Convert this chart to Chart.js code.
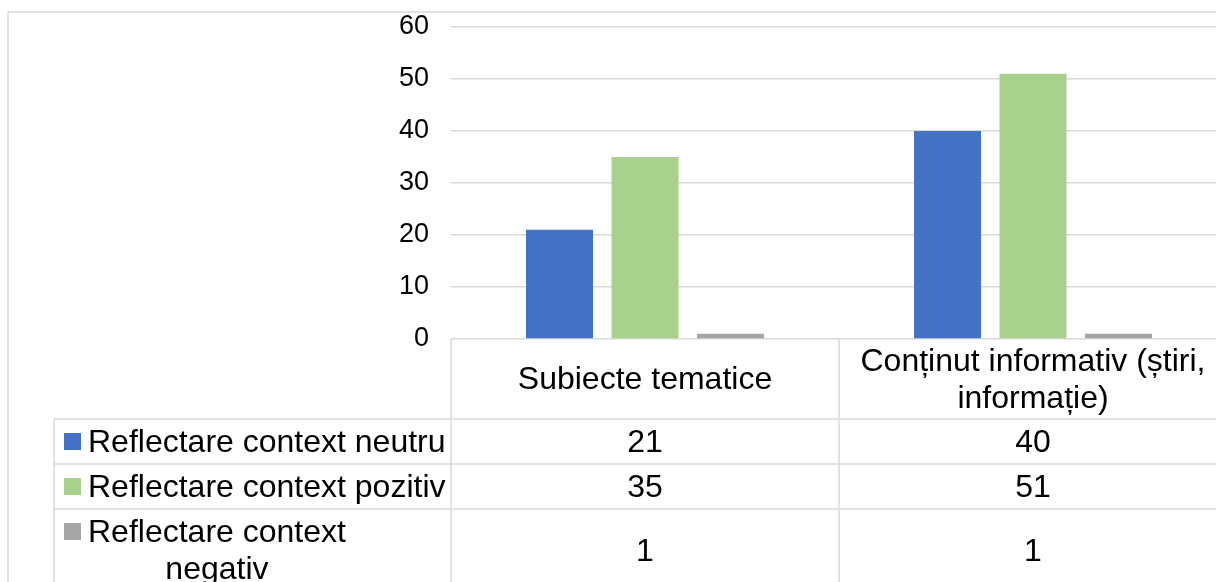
<!DOCTYPE html>
<html>
<head>
<meta charset="utf-8">
<script src="https://cdn.jsdelivr.net/npm/chart.js@4"></script>
<style>
  html, body { margin: 0; padding: 0; overflow: hidden; background: #fff; }
  #wrap { position: absolute; left: 0; top: 0; width: 1240px; height: 600px; }
</style>
</head>
<body>
<div id="wrap"><canvas id="chart" width="1240" height="600"></canvas></div>
<script>
// data
const categories = [["Subiecte tematice"], ["Conținut informativ (știri,", "informație)"]];
const seriesNames = ["Reflectare context neutru", "Reflectare context pozitiv", "Reflectare context negativ"];
const neutru = [21, 40];
const pozitiv = [35, 51];
const negativ = [1, 1];
const yTicks = [0, 10, 20, 30, 40, 50, 60];

const colors = ["#4472C4", "#A9D18E", "#A5A5A5"];
const lineColor = "#D9D9D9";
const fontFamily = "'Liberation Sans', Arial, sans-serif";

// splits text into lines no wider than maxW
function wrapText(ctx, text, maxW) {
    const words = text.split(" ");
    const lines = [];
    let cur = "";
    words.forEach(w => {
        const test = cur ? cur + " " + w : w;
        if (cur && ctx.measureText(test).width > maxW) {
            lines.push(cur);
            cur = w;
        } else {
            cur = test;
        }
    });
    if (cur) lines.push(cur);
    return lines;
}

// outer frame + data table under the plot (Excel style)
const dataTable = {
    id: "dataTable",
    afterDraw(chart) {
        const ctx = chart.ctx;
        const area = chart.chartArea;
        const xs = chart.scales.x;
        const colW = (area.right - area.left) / categories.length;
        const top = area.bottom;
        const headerBottom = top + 80;
        const rowHeights = [45, 45, 82];
        const legendLeft = 54;
        const lineH = 37;

        // row edges
        const rowTops = [];
        let y = headerBottom;
        rowHeights.forEach(h => { rowTops.push(y); y += h; });
        const tableBottom = y;

        ctx.save();
        ctx.strokeStyle = lineColor;
        ctx.lineWidth = 1.5;

        // outer chart frame
        ctx.beginPath();
        ctx.moveTo(8, 600); ctx.lineTo(8, 12); ctx.lineTo(1240, 12);
        ctx.stroke();

        // horizontal table lines
        ctx.beginPath();
        rowTops.concat([tableBottom]).forEach(ry => {
            ctx.moveTo(legendLeft, ry);
            ctx.lineTo(area.right, ry);
        });
        // vertical lines
        for (let k = 0; k <= categories.length; k++) {
            const vx = area.left + k * colW;
            ctx.moveTo(vx, top);
            ctx.lineTo(vx, tableBottom);
        }
        ctx.moveTo(legendLeft, headerBottom);
        ctx.lineTo(legendLeft, tableBottom);
        ctx.stroke();

        ctx.fillStyle = "#000";
        ctx.font = "32px " + fontFamily;
        ctx.textBaseline = "alphabetic";

        // header (category names)
        ctx.textAlign = "center";
        categories.forEach((lines, i) => {
            const cx = xs.getPixelForValue(i);
            const base = top + 50 - (lines.length - 1) * lineH / 2;
            lines.forEach((l, j) => ctx.fillText(l, cx, base + j * lineH));
        });

        // rows
        const series = [neutru, pozitiv, negativ];
        series.forEach((vals, r) => {
            const rTop = rowTops[r];
            const mid = rTop + 33 + (rowHeights[r] - 45) / 2;
            const lines = wrapText(ctx, seriesNames[r], 360);
            const firstBase = mid - (lines.length - 1) * lineH / 2;

            // legend key
            ctx.fillStyle = colors[r];
            ctx.fillRect(64, firstBase - 19, 17, 17);

            // series name
            ctx.fillStyle = "#000";
            if (lines.length === 1) {
                ctx.textAlign = "left";
                ctx.fillText(lines[0], 88, firstBase);
            } else {
                const w = Math.max(...lines.map(l => ctx.measureText(l).width));
                ctx.textAlign = "center";
                lines.forEach((l, j) => ctx.fillText(l, 88 + w / 2, firstBase + j * lineH));
            }

            // values
            ctx.textAlign = "center";
            vals.forEach((v, i) => {
                ctx.fillText(String(v), xs.getPixelForValue(i), mid);
            });
        });
        ctx.restore();
    }
};

const ctx = document.getElementById("chart").getContext("2d");
new Chart(ctx, {
    type: "bar",
    data: {
        labels: categories.map(c => c.join(" ")),
        datasets: [
            { label: seriesNames[0], data: neutru, backgroundColor: colors[0] },
            { label: seriesNames[1], data: pozitiv, backgroundColor: colors[1] },
            { label: seriesNames[2], data: negativ, backgroundColor: colors[2] }
        ]
    },
    options: {
        responsive: false,
        animation: false,
        categoryPercentage: 0.661,
        barPercentage: 0.784,
        layout: { padding: { left: 0, top: 27, right: 13, bottom: 261 } },
        scales: {
            x: { display: false },
            y: {
                min: yTicks[0],
                max: yTicks[yTicks.length - 1],
                afterBuildTicks: scale => { scale.ticks = yTicks.map(v => ({ value: v })); },
                afterFit: scale => {
                    scale.width = 451;
                    // plot area is set by the layout padding, not by tick label overhang
                    scale.paddingTop = 0;
                    scale.paddingBottom = 0;
                },
                border: { display: false },
                grid: { color: lineColor, lineWidth: 1.5, drawTicks: false },
                ticks: {
                    padding: 22,
                    color: "#000",
                    font: { family: fontFamily, size: 27 }
                }
            }
        },
        plugins: {
            legend: { display: false },
            tooltip: { enabled: false }
        }
    },
    plugins: [dataTable]
});
</script>
</body>
</html>
